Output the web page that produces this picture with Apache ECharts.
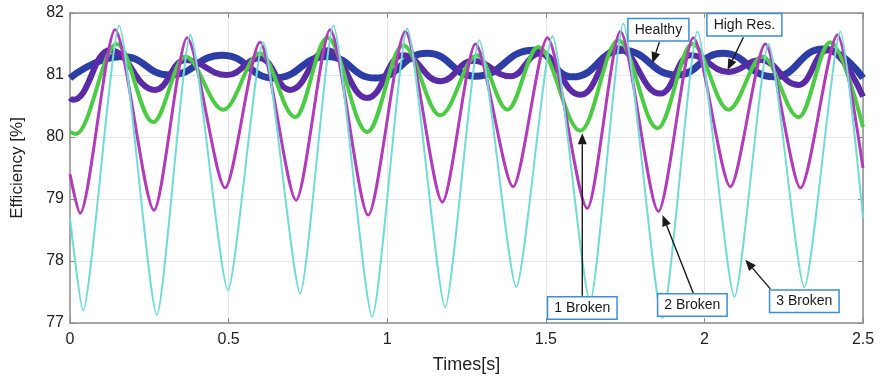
<!DOCTYPE html>
<html><head><meta charset="utf-8">
<script src="https://cdn.jsdelivr.net/npm/echarts@6/dist/echarts.min.js"></script>
<style>html,body{margin:0;padding:0;background:#fff}#c{width:882px;height:384px}</style>
</head><body><div id="c"></div>
<script>
// ---- data ----
const xTicks = [0, 0.5, 1, 1.5, 2, 2.5];
const yTicks = [77, 78, 79, 80, 81, 82];

const tHealthy = [0, 0.164, 0.315, 0.48, 0.644, 0.811, 0.962, 1.126, 1.278, 1.461, 1.584, 1.741, 1.912, 2.057, 2.218, 2.375, 2.5];
const vHealthy = [80.95, 81.3, 81.0, 81.32, 80.95, 81.3, 80.95, 81.35, 80.98, 81.4, 80.97, 81.4, 81.0, 81.35, 80.97, 81.42, 80.95];

const tHighRes = [0, 0.01, 0.126, 0.268, 0.363, 0.495, 0.599, 0.694, 0.811, 0.937, 1.05, 1.167, 1.271, 1.388, 1.483, 1.609, 1.726, 1.861, 1.956, 2.076, 2.177, 2.297, 2.388, 2.5];
const vHighRes = [80.63, 80.6, 81.4, 80.76, 81.24, 81.0, 81.27, 80.76, 81.4, 80.63, 81.32, 80.9, 81.23, 80.98, 81.35, 80.68, 81.43, 80.7, 81.32, 81.05, 81.24, 80.84, 81.4, 80.65];

const t1Broken = [0, 0.019, 0.148, 0.262, 0.363, 0.483, 0.599, 0.71, 0.811, 0.937, 1.05, 1.167, 1.284, 1.379, 1.476, 1.609, 1.729, 1.852, 1.962, 2.076, 2.183, 2.297, 2.397, 2.5];
const v1Broken = [80.08, 80.05, 81.5, 80.24, 81.3, 80.44, 81.35, 80.32, 81.6, 80.08, 81.48, 80.35, 81.32, 80.44, 81.45, 80.1, 81.56, 80.14, 81.5, 80.44, 81.3, 80.32, 81.53, 80.16];

const t2Broken = [0, 0.032, 0.142, 0.265, 0.369, 0.489, 0.599, 0.713, 0.82, 0.94, 1.057, 1.174, 1.278, 1.397, 1.505, 1.631, 1.735, 1.855, 1.965, 2.082, 2.192, 2.303, 2.42, 2.5];
const v2Broken = [79.4, 78.77, 81.73, 78.82, 81.6, 79.18, 81.53, 78.98, 81.73, 78.74, 81.7, 78.95, 81.5, 79.2, 81.6, 78.85, 81.7, 78.8, 81.6, 79.2, 81.5, 79.18, 81.65, 79.5];

const t3Broken = [0, 0.041, 0.155, 0.274, 0.379, 0.498, 0.609, 0.726, 0.83, 0.953, 1.063, 1.183, 1.29, 1.407, 1.521, 1.64, 1.744, 1.868, 1.978, 2.095, 2.202, 2.315, 2.429, 2.5];
const v3Broken = [78.7, 77.2, 81.8, 77.13, 81.65, 77.53, 81.53, 77.48, 81.8, 77.1, 81.75, 77.26, 81.56, 77.58, 81.63, 77.35, 81.83, 77.08, 81.7, 77.42, 81.5, 77.58, 81.7, 78.7];

const annLabels = ['Healthy', 'High Res.', '1 Broken', '2 Broken', '3 Broken'];
const annBox  = [[1.855, 81.73], [2.126, 81.81], [1.615, 77.24], [1.962, 77.29], [2.315, 77.35]];
const annTail = [[1.858, 81.53], [2.123, 81.61], [1.615, 77.44], [1.965, 77.48], [2.208, 77.55]];
const annTip  = [[1.836, 81.19], [2.073, 81.08], [1.615, 80.06], [1.868, 78.74], [2.129, 78.02]];

// ---- chart ----
const zip = (t, v) => t.map((x, i) => [x, v[i]]);
const chart = echarts.init(document.getElementById('c'), null, {renderer: 'canvas'});
const FONT = 'Liberation Sans, Arial, sans-serif';
const axisGray = '#8c8c8c';

function mkSeries(name, t, v, color, width, smooth) {
  return {
    name, type: 'line', data: zip(t, v), showSymbol: false, symbol: 'none',
    smooth, smoothMonotone: 'x',
    lineStyle: {color, width}, itemStyle: {color},
    emphasis: {disabled: true}, animation: false, z: 2
  };
}

chart.setOption({
  animation: false,
  backgroundColor: '#fff',
  grid: {left: 70, right: 19, top: 13, bottom: 61, containLabel: false},
  xAxis: [{
    type: 'value', min: xTicks[0], max: xTicks[xTicks.length - 1], interval: 0.5,
    name: 'Times[s]', nameLocation: 'middle', nameGap: 33,
    nameTextStyle: {fontFamily: FONT, fontSize: 18, color: '#222'},
    axisLine: {show: true, onZero: false, lineStyle: {color: axisGray, width: 1.5}},
    axisTick: {show: true, inside: true, length: 5, lineStyle: {color: axisGray}},
    axisLabel: {fontFamily: FONT, fontSize: 16, color: '#222', margin: 9},
    splitLine: {show: true, lineStyle: {color: '#e6e6e6', width: 1}}
  }, {
    type: 'value', position: 'top', min: xTicks[0], max: xTicks[xTicks.length - 1], interval: 0.5,
    axisLine: {show: true, onZero: false, lineStyle: {color: axisGray, width: 1.5}},
    axisTick: {show: true, inside: true, length: 5, lineStyle: {color: axisGray}},
    axisLabel: {show: false}, splitLine: {show: false}
  }],
  yAxis: [{
    type: 'value', min: yTicks[0], max: yTicks[yTicks.length - 1], interval: 1,
    name: 'Efficiency [%]', nameLocation: 'middle', nameGap: 44,
    nameTextStyle: {fontFamily: FONT, fontSize: 17, color: '#222'},
    axisLine: {show: true, onZero: false, lineStyle: {color: axisGray, width: 1.5}},
    axisTick: {show: true, inside: true, length: 5, lineStyle: {color: axisGray}},
    axisLabel: {fontFamily: FONT, fontSize: 16, color: '#222', margin: 6},
    splitLine: {show: true, lineStyle: {color: '#e6e6e6', width: 1}}
  }, {
    type: 'value', position: 'right', min: yTicks[0], max: yTicks[yTicks.length - 1], interval: 1,
    axisLine: {show: true, onZero: false, lineStyle: {color: axisGray, width: 1.5}},
    axisTick: {show: true, inside: true, length: 5, lineStyle: {color: axisGray}},
    axisLabel: {show: false}, splitLine: {show: false}
  }],
  series: [
    mkSeries('Healthy', tHealthy, vHealthy, '#2c3ea6', 7, 0.5),
    mkSeries('High Res.', tHighRes, vHighRes, '#5b2aa6', 6, 0.45),
    mkSeries('1 Broken', t1Broken, v1Broken, '#4ccb45', 4, 0.35),
    mkSeries('2 Broken', t2Broken, v2Broken, '#b23cb8', 3, 0.25),
    mkSeries('3 Broken', t3Broken, v3Broken, '#72dcd4', 2, 0.2)
  ]
});

// ---- annotations (positioned through the chart's own coordinate system) ----
const graphics = [];
annLabels.forEach((lab, i) => {
  const box = chart.convertToPixel({gridIndex: 0}, annBox[i]);
  const tail = chart.convertToPixel({gridIndex: 0}, annTail[i]);
  const tip = chart.convertToPixel({gridIndex: 0}, annTip[i]);
  const dx = tip[0] - tail[0], dy = tip[1] - tail[1];
  const len = Math.hypot(dx, dy), ux = dx / len, uy = dy / len;
  const hl = 11, hw = 4.5;
  const bx = tip[0] - ux * hl, by = tip[1] - uy * hl;
  graphics.push({
    type: 'line', z: 50, silent: true,
    shape: {x1: tail[0], y1: tail[1], x2: bx, y2: by},
    style: {stroke: '#1a1a1a', lineWidth: 1.4}
  });
  graphics.push({
    type: 'polygon', z: 50, silent: true,
    shape: {points: [[tip[0], tip[1]], [bx - uy * hw, by + ux * hw], [bx + uy * hw, by - ux * hw]]},
    style: {fill: '#1a1a1a'}
  });
  graphics.push({
    type: 'text', z: 60, silent: true, x: box[0], y: box[1],
    style: {
      text: lab, align: 'center', verticalAlign: 'middle',
      font: '14px ' + FONT, fill: '#1a1a1a',
      backgroundColor: '#fff', borderColor: '#3c8fd4', borderWidth: 1.5,
      padding: [4, 6, 3, 6]
    }
  });
});
chart.setOption({graphic: graphics});
</script></body></html>
